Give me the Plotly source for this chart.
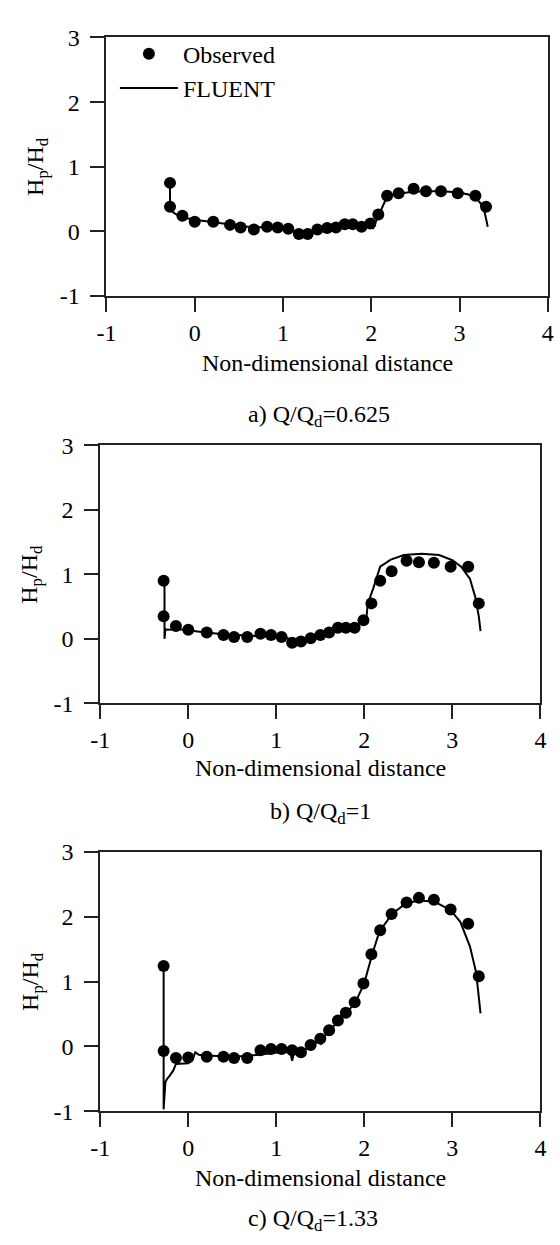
import plotly.graph_objects as go

# ---------------- data ----------------
obs_x = [-0.28, -0.28, -0.14, 0.0, 0.21, 0.40, 0.52, 0.67, 0.82, 0.94, 1.06, 1.18, 1.28, 1.39,
         1.50, 1.60, 1.70, 1.79, 1.89, 1.99, 2.08, 2.18, 2.31, 2.48, 2.62, 2.79, 2.98, 3.18, 3.30]

obs_y_a = [0.75, 0.38, 0.24, 0.15, 0.15, 0.10, 0.06, 0.03, 0.07, 0.06, 0.04, -0.04, -0.04, 0.03,
           0.05, 0.06, 0.11, 0.11, 0.07, 0.12, 0.26, 0.55, 0.59, 0.66, 0.62, 0.62, 0.59, 0.55, 0.38]
obs_y_b = [0.90, 0.35, 0.20, 0.14, 0.10, 0.06, 0.03, 0.03, 0.08, 0.06, 0.03, -0.06, -0.04, 0.01,
           0.06, 0.10, 0.17, 0.17, 0.17, 0.29, 0.55, 0.90, 1.05, 1.21, 1.19, 1.18, 1.12, 1.12, 0.55]
obs_y_c = [1.24, -0.07, -0.18, -0.17, -0.16, -0.16, -0.18, -0.18, -0.06, -0.04, -0.04, -0.06, -0.09, 0.02,
           0.12, 0.25, 0.40, 0.52, 0.68, 0.97, 1.42, 1.79, 2.04, 2.22, 2.29, 2.26, 2.11, 1.89, 1.08]

fl_x_a = [-0.28, -0.28, -0.22, -0.12, 0.0, 0.2, 0.4, 0.6, 0.8, 1.0, 1.1, 1.18, 1.3, 1.4, 1.5, 1.6,
          1.7, 1.8, 1.9, 1.98, 2.02, 2.06, 2.1, 2.15, 2.2, 2.3, 2.45, 2.6, 2.8, 3.0, 3.1, 3.18,
          3.24, 3.28, 3.30, 3.32]
fl_y_a = [0.75, 0.33, 0.27, 0.21, 0.18, 0.14, 0.10, 0.07, 0.06, 0.04, 0.02, -0.03, -0.02, 0.01, 0.03, 0.05,
          0.08, 0.09, 0.10, 0.10, 0.05, 0.18, 0.30, 0.45, 0.55, 0.58, 0.61, 0.62, 0.62, 0.60, 0.57, 0.53,
          0.43, 0.32, 0.20, 0.07]

fl_x_b = [-0.27, -0.27, -0.26, -0.24, -0.1, 0.0, 0.2, 0.4, 0.6, 0.8, 1.0, 1.1, 1.2, 1.3, 1.4, 1.49,
          1.51, 1.53, 1.6, 1.7, 1.8, 1.9, 2.02, 2.04, 2.1, 2.18, 2.3, 2.45, 2.65, 2.85, 3.0, 3.1,
          3.2, 3.26, 3.3, 3.32]
fl_y_b = [0.90, 0.0, 0.15, 0.14, 0.15, 0.13, 0.10, 0.07, 0.05, 0.04, 0.03, 0.02, -0.02, -0.02, 0.02, 0.06,
          -0.01, 0.06, 0.10, 0.15, 0.18, 0.21, 0.28, 0.55, 0.78, 1.12, 1.23, 1.30, 1.32, 1.30, 1.22, 1.12,
          0.93, 0.65, 0.35, 0.12]

fl_x_c = [-0.28, -0.28, -0.26, -0.24, -0.21, -0.17, -0.14, 0.0, 0.05, 0.08, 0.12, 0.2, 0.4, 0.6, 0.8,
          1.0, 1.1, 1.16, 1.18, 1.2, 1.28, 1.4, 1.49, 1.51, 1.53, 1.6, 1.7, 1.8, 1.9, 2.0, 2.09, 2.17,
          2.32, 2.48, 2.63, 2.8, 2.98, 3.09, 3.2, 3.27, 3.32]
fl_y_c = [1.24, -0.97, -0.55, -0.50, -0.45, -0.37, -0.27, -0.26, -0.20, -0.09, -0.13, -0.14, -0.15, -0.15, -0.13,
          -0.10, -0.08, -0.10, -0.22, -0.10, -0.08, 0.0, 0.10, 0.03, 0.12, 0.24, 0.38, 0.52, 0.68, 0.98, 1.42, 1.77,
          2.05, 2.21, 2.25, 2.23, 2.10, 1.92, 1.54, 1.14, 0.51]

x_tick_vals = [-1, 0, 1, 2, 3, 4]
x_tick_text = ["-1", "0", "1", "2", "3", "4"]
y_tick_vals = [-1, 0, 1, 2, 3]
y_tick_text = ["-1", "0", "1", "2", "3"]

captions = ["a) Q/Q<sub>d</sub>=0.625", "b) Q/Q<sub>d</sub>=1", "c) Q/Q<sub>d</sub>=1.33"]
x_title = "Non-dimensional distance"
y_title = "H<sub>p</sub>/H<sub>d</sub>"
series_names = ["Observed", "FLUENT"]

# ---------------- layout geometry ----------------
W, H = 560, 1245
FONT = "Liberation Serif"
FS = 24
panels = [
    dict(xl=99.3, xr=553.6, yt=25.0, yb=289.0, title_y=357, cap_y=412, cap_x=318, ytit_x=27),
    dict(xl=92.9, xr=546.0, yt=441.7, yb=705.0, title_y=771, cap_y=817, cap_x=320, ytit_x=22),
    dict(xl=92.9, xr=546.0, yt=856.7, yb=1121.7, title_y=1190, cap_y=1233, cap_x=312, ytit_x=22),
]
obs_sets = [obs_y_a, obs_y_b, obs_y_c]
fl_sets = [(fl_x_a, fl_y_a), (fl_x_b, fl_y_b), (fl_x_c, fl_y_c)]

fig = go.Figure()
layout = dict(
    width=W, height=H, margin=dict(l=0, r=0, t=0, b=0),
    paper_bgcolor="white", plot_bgcolor="white",
    font=dict(family=FONT, size=FS, color="black"),
    showlegend=True,
    legend=dict(x=108 / W, y=1 - 19 / H, xanchor="left", yanchor="top",
                bgcolor="rgba(0,0,0,0)", font=dict(family=FONT, size=FS, color="black"),
                itemwidth=58, tracegroupgap=0),
)
annotations = []
axcol = "#222222"
for i, p in enumerate(panels):
    n = "" if i == 0 else str(i + 1)
    xa = "x" + n
    ya = "y" + n
    layout["xaxis" + n] = dict(
        domain=[p["xl"] / W, p["xr"] / W], anchor=ya, range=[-1, 4],
        tickvals=x_tick_vals, ticktext=x_tick_text, ticks="outside", ticklen=14, tickwidth=2,
        tickcolor=axcol, showline=True, linewidth=2, linecolor=axcol, mirror=True,
        showgrid=False, zeroline=False, tickfont=dict(family=FONT, size=FS, color="black"),
    )
    layout["yaxis" + n] = dict(
        domain=[1 - p["yb"] / H, 1 - p["yt"] / H], anchor=xa, range=[-1, 3],
        tickvals=y_tick_vals, ticktext=y_tick_text, ticks="outside", ticklen=14, tickwidth=2,
        tickcolor=axcol, showline=True, linewidth=2, linecolor=axcol, mirror=True,
        showgrid=False, zeroline=False, tickfont=dict(family=FONT, size=FS, color="black"),
        ticklabelstandoff=6,
    )
    fx, fy = fl_sets[i]
    fig.add_trace(go.Scatter(x=obs_x, y=obs_sets[i], mode="markers", name=series_names[0],
                             marker=dict(color="black", size=12), xaxis=xa, yaxis=ya,
                             showlegend=(i == 0), legendrank=1))
    fig.add_trace(go.Scatter(x=fx, y=fy, mode="lines", name=series_names[1],
                             line=dict(color="black", width=2), xaxis=xa, yaxis=ya,
                             showlegend=(i == 0), legendrank=2))
    cx = (p["xl"] + p["xr"]) / 2
    annotations.append(dict(text=x_title, x=cx / W, y=1 - p["title_y"] / H, xref="paper", yref="paper",
                            showarrow=False, xanchor="center", yanchor="middle",
                            font=dict(family=FONT, size=FS, color="black")))
    annotations.append(dict(text=captions[i], x=p["cap_x"] / W, y=1 - p["cap_y"] / H, xref="paper",
                            yref="paper", showarrow=False, xanchor="center", yanchor="middle",
                            font=dict(family=FONT, size=FS, color="black")))
    annotations.append(dict(text=y_title, x=p["ytit_x"] / W, y=1 - (p["yt"] + p["yb"]) / 2 / H,
                            xref="paper", yref="paper", showarrow=False, textangle=-90,
                            xanchor="center", yanchor="middle",
                            font=dict(family=FONT, size=FS, color="black")))
layout["annotations"] = annotations
fig.update_layout(**layout)
fig.write_html("out.html")
